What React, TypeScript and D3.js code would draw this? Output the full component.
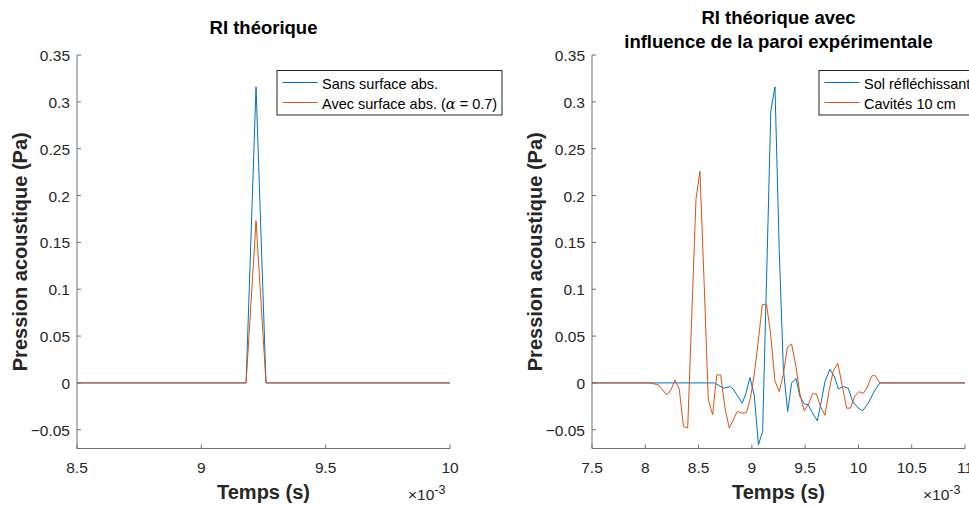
import React from "react";
import * as d3 from "d3";

// Left panel (time in 1e-3 s, pressure in Pa)
const leftTime = [8.5, 9.18, 9.22, 9.26, 10];
const leftSans = [0, 0, 0.316, 0, 0];
const leftAvec = [0, 0, 0.173, 0, 0];

// Right panel
const solTime = [7.5, 8.65, 8.732, 8.795, 8.826, 8.91, 8.945, 8.982, 9.023, 9.062, 9.101, 9.141, 9.178, 9.217, 9.257, 9.295, 9.336, 9.373, 9.414, 9.451, 9.492, 9.529, 9.568, 9.614, 9.651, 9.686, 9.733, 9.775, 9.812, 9.857, 9.904, 9.946, 9.998, 10.039, 10.092, 10.155, 10.202, 11];
const solVal = [0, 0, -0.0056, -0.0039, -0.0067, -0.0216, -0.011, 0.0059, -0.0138, -0.066, -0.0518, 0.1245, 0.2904, 0.316, 0.1415, 0.016, -0.0305, -0.0003, 0.005, -0.0146, -0.0223, -0.0234, -0.032, -0.0404, -0.0202, 0.0014, 0.0146, 0.0064, -0.0064, -0.0039, -0.0056, -0.0199, -0.0269, -0.0298, -0.0217, -0.0075, 0, 0];

const cavTime = [7.5, 8.044, 8.082, 8.122, 8.161, 8.201, 8.241, 8.279, 8.319, 8.358, 8.398, 8.437, 8.476, 8.513, 8.553, 8.591, 8.632, 8.67, 8.707, 8.748, 8.788, 8.826, 8.863, 8.914, 8.949, 8.987, 9.024, 9.062, 9.098, 9.137, 9.174, 9.217, 9.257, 9.296, 9.334, 9.373, 9.414, 9.451, 9.491, 9.529, 9.568, 9.606, 9.644, 9.686, 9.726, 9.764, 9.806, 9.845, 9.889, 9.925, 9.967, 10.005, 10.045, 10.08, 10.124, 10.155, 10.202, 11];
const cavVal = [0, 0, -0.001, -0.002, -0.0074, -0.0128, -0.0074, 0.0032, -0.0067, -0.0466, -0.0482, 0.0745, 0.1965, 0.2259, 0.1043, -0.0176, -0.034, 0.0085, 0.0085, -0.0269, -0.0482, -0.0394, -0.0305, -0.0324, -0.0316, -0.0163, 0.0107, 0.0459, 0.0835, 0.0841, 0.0543, 0.0021, -0.0093, 0.0096, 0.0383, 0.0415, 0.0173, -0.0117, -0.0298, -0.0234, -0.0117, -0.0117, -0.0252, -0.0346, -0.0074, 0.0128, 0.021, -0.0011, -0.0269, -0.0269, -0.0138, -0.0093, -0.0112, -0.0056, 0.0074, 0.008, 0, 0];

const yTicks = [-0.05, 0, 0.05, 0.1, 0.15, 0.2, 0.25, 0.3, 0.35];
const leftXTicks = [8.5, 9, 9.5, 10];
const rightXTicks = [7.5, 8, 8.5, 9, 9.5, 10, 10.5, 11];

const BLUE = "#0072BD";
const ORANGE = "#D95319";
const AX = "#262626";
const AXLINE = "#6f6f6f";
const FONT = "'Liberation Sans', Arial, Helvetica, sans-serif";

type Series = { t: number[]; v: number[]; color: string; label: React.ReactNode };

function Panel({ x0, x1, domain, xTicks, series, title, legendX, legendW }: {
  x0: number; x1: number; domain: [number, number]; xTicks: number[];
  series: Series[]; title: string[]; legendX: number; legendW: number;
}) {
  const yTop = 55, yBot = 448.5;
  const xs = d3.scaleLinear().domain(domain).range([x0, x1]);
  const ys = d3.scaleLinear().domain([-0.07, 0.35]).range([yBot, yTop]);
  const line = d3.line<[number, number]>().x(d => xs(d[0])).y(d => ys(d[1]));
  const cx = (x0 + x1) / 2;
  const fmt = (v: number) => d3.format("")(+v.toFixed(2));
  return (
    <g fontFamily={FONT}>
      {series.map((s, i) => (
        <path key={i} d={line(s.t.map((t, k) => [t, s.v[k]] as [number, number])) || ""}
          fill="none" stroke={s.color} strokeWidth={1} strokeLinejoin="round" />
      ))}
      {/* axes */}
      <line x1={x0} x2={x1} y1={yBot} y2={yBot} stroke={AXLINE} strokeWidth={1} />
      <line x1={x0} x2={x0} y1={yTop} y2={yBot} stroke={AXLINE} strokeWidth={1} />
      {xTicks.map(t => (
        <g key={t}>
          <line x1={xs(t)} x2={xs(t)} y1={yBot} y2={yBot - 4} stroke={AXLINE} />
          <text x={xs(t)} y={472.5} textAnchor="middle" fontSize={15.5} fill={AX}>{fmt(t)}</text>
        </g>
      ))}
      {yTicks.map(v => (
        <g key={v}>
          <line x1={x0} x2={x0 + 4} y1={ys(v)} y2={ys(v)} stroke={AXLINE} />
          <text x={x0 - 7} y={ys(v) + 6} textAnchor="end" fontSize={15.5} fill={AX}>{fmt(v)}</text>
        </g>
      ))}
      {/* titles */}
      {title.map((tl, i) => (
        <text key={i} x={cx} y={title.length === 1 ? 34 : 24 + i * 24} textAnchor="middle"
          fontSize={18.5} fontWeight="bold" fill="#000">{tl}</text>
      ))}
      <text transform={`translate(${x0 - 50},${(yTop + yBot) / 2}) rotate(-90)`} textAnchor="middle"
        fontSize={20} fontWeight="bold" fill={AX}>Pression acoustique (Pa)</text>
      <text x={cx} y={498.5} textAnchor="middle" fontSize={20} fontWeight="bold" fill={AX}>Temps (s)</text>
      <text x={x1 - 42} y={499.5} fontSize={15.5} fill={AX}>×10<tspan dy={-6} fontSize={12.5}>-3</tspan></text>
      {/* legend */}
      <rect x={legendX} y={70.5} width={legendW} height={44.5} fill="#fff" stroke={AX} strokeWidth={1} />
      {series.map((s, i) => (
        <g key={i}>
          <line x1={legendX + 5.5} x2={legendX + 40.5} y1={82.5 + i * 20} y2={82.5 + i * 20} stroke={s.color} strokeWidth={1} />
          <text x={legendX + 45} y={89 + i * 20} fontSize={14.5} fill="#000">{s.label}</text>
        </g>
      ))}
    </g>
  );
}

export default function App() {
  return (
    <svg width={969} height={507} style={{ position: "absolute", left: 0, top: 0, display: "block", background: "#fff" }}>
      <rect width={969} height={507} fill="#fff" />
      <Panel x0={77} x1={450} domain={[8.5, 10]} xTicks={leftXTicks}
        title={["RI théorique"]} legendX={277} legendW={225}
        series={[
          { t: leftTime, v: leftSans, color: BLUE, label: "Sans surface abs." },
          { t: leftTime, v: leftAvec, color: ORANGE, label: <>Avec surface abs. (<tspan fontFamily="'DejaVu Serif', serif" fontStyle="italic">α</tspan> = 0.7)</> },
        ]} />
      <Panel x0={592} x1={965} domain={[7.5, 11]} xTicks={rightXTicks}
        title={["RI théorique avec", "influence de la paroi expérimentale"]} legendX={819} legendW={170}
        series={[
          { t: solTime, v: solVal, color: BLUE, label: "Sol réfléchissant" },
          { t: cavTime, v: cavVal, color: ORANGE, label: "Cavités 10 cm" },
        ]} />
    </svg>
  );
}
